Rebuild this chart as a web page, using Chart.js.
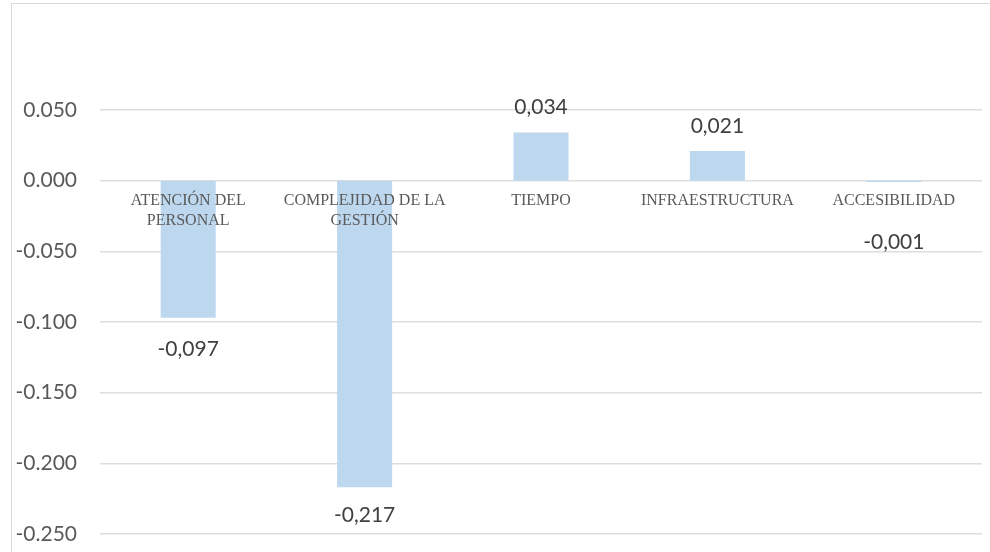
<!DOCTYPE html>
<html>
<head>
<meta charset="utf-8">
<script src="https://cdn.jsdelivr.net/npm/chart.js@4.4.1/dist/chart.umd.min.js"></script>
<style>
  html, body { margin: 0; padding: 0; background: #fff; overflow: hidden; }
  #wrap { position: relative; width: 990px; height: 552px; }
  #frame { position: absolute; left: 11px; top: 3px; width: 1000px; height: 600px;
           border: 1.5px solid #d9d9d9; box-sizing: border-box; }
  canvas { position: absolute; left: 0; top: 0; }
</style>
</head>
<body>
<div id="wrap">
  <div id="frame"></div>
  <canvas id="c" width="990" height="552"></canvas>
</div>
<script>
// Factors and their coefficients
const categories = [
  ["ATENCIÓN DEL", "PERSONAL"],
  ["COMPLEJIDAD DE LA", "GESTIÓN"],
  "TIEMPO",
  "INFRAESTRUCTURA",
  "ACCESIBILIDAD"
];
const values = [-0.097, -0.217, 0.034, 0.021, -0.001];

// Value axis range
const yMin = -0.25;
const yMax = 0.05;
const yStep = 0.05;

// Distance of each value label from the end of its bar (px)
const labelShift = [31, 28, 25, 25, 60];

const fmtValue = v => v.toFixed(3).replace('.', ',');
const fmtTick = v => (Math.abs(v) < 1e-9 ? 0 : v).toFixed(3);

const valueLabelPlugin = {
  id: 'valueLabels',
  afterDatasetsDraw(chart) {
    const ctx = chart.ctx;
    const meta = chart.getDatasetMeta(0);
    ctx.save();
    ctx.font = '21px Lato';
    ctx.fillStyle = '#404040';
    ctx.textAlign = 'center';
    ctx.textBaseline = 'middle';
    meta.data.forEach((bar, i) => {
      const v = values[i];
      const y = v >= 0 ? bar.y - labelShift[i] : bar.y + labelShift[i];
      ctx.fillText(fmtValue(v), bar.x, y);
    });
    ctx.restore();
  }
};

new Chart(document.getElementById('c'), {
  type: 'bar',
  data: {
    labels: categories,
    datasets: [{
      data: values,
      backgroundColor: '#bdd7ee',
      borderWidth: 0,
      categoryPercentage: 1,
      barPercentage: 0.312
    }]
  },
  options: {
    responsive: false,
    animation: false,
    devicePixelRatio: 1,
    layout: { padding: { top: 110, right: 8, bottom: 18, left: 0 } },
    plugins: { legend: { display: false }, tooltip: { enabled: false } },
    scales: {
      y: {
        min: yMin,
        max: yMax,
        ticks: {
          stepSize: yStep,
          padding: 23,
          color: '#595959',
          font: { family: 'Lato', size: 21 },
          callback: v => fmtTick(v)
        },
        grid: { color: '#dedede', lineWidth: 1.5, drawTicks: false },
        border: { display: false },
        afterFit: s => {
          s.width = 100;
          s.paddingTop = 12;
          s.paddingBottom = 12;
        }
      },
      x: {
        position: { y: 0 },
        grid: { display: false, drawTicks: false },
        border: { display: false },
        afterFit: s => { s.height = 0; },
        ticks: {
          z: 1,
          padding: 10,
          maxRotation: 0,
          autoSkip: false,
          color: '#595959',
          font: { family: 'Liberation Serif', size: 16, lineHeight: 1.25 }
        }
      }
    }
  },
  plugins: [valueLabelPlugin]
});
</script>
</body>
</html>
